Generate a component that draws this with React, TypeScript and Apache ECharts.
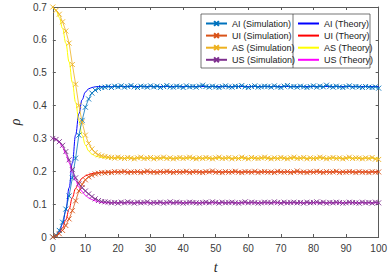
import React, { useEffect, useRef } from "react";
import * as echarts from "echarts";

const simNames = ["AI (Simulation)", "UI (Simulation)", "AS (Simulation)", "US (Simulation)"];
const theoryNames = ["AI (Theory)", "UI (Theory)", "AS (Theory)", "US (Theory)"];
const simColors = ["#0072BD", "#D95319", "#EDB120", "#7E2F8E"];
const theoryColors = ["#0000FF", "#FF0000", "#FFFF00", "#FF00FF"];

const xTicks = [0, 10, 20, 30, 40, 50, 60, 70, 80, 90, 100];
const yTicks = [0, 0.1, 0.2, 0.3, 0.4, 0.5, 0.6, 0.7];

// Simulation, t = 0..15
const aiSimEarly = [0, 0.005, 0.02, 0.045, 0.085, 0.125, 0.18, 0.24, 0.31, 0.355, 0.395, 0.42, 0.438, 0.447, 0.452, 0.455];
const uiSimEarly = [0, 0.004, 0.01, 0.02, 0.035, 0.055, 0.08, 0.11, 0.14, 0.16, 0.174, 0.183, 0.188, 0.192, 0.194, 0.196];
const asSimEarly = [0.7, 0.69, 0.678, 0.655, 0.627, 0.59, 0.525, 0.465, 0.4, 0.35, 0.31, 0.285, 0.268, 0.257, 0.25, 0.247];
const usSimEarly = [0.3, 0.297, 0.29, 0.279, 0.26, 0.235, 0.205, 0.18, 0.162, 0.15, 0.14, 0.131, 0.123, 0.116, 0.111, 0.108];

// Simulation, t = 16..100
const aiSimLate = [
  0.456, 0.458, 0.455, 0.459, 0.457, 0.46, 0.456, 0.458, 0.461, 0.457,
  0.455, 0.459, 0.458, 0.456, 0.46, 0.457, 0.459, 0.455, 0.458, 0.461,
  0.457, 0.456, 0.459, 0.458, 0.455, 0.46, 0.457, 0.458, 0.456, 0.459,
  0.462, 0.458, 0.456, 0.459, 0.457, 0.455, 0.458, 0.46, 0.457, 0.456,
  0.459, 0.458, 0.461, 0.457, 0.455, 0.458, 0.46, 0.456, 0.457, 0.459,
  0.458, 0.456, 0.46, 0.457, 0.455, 0.459, 0.461, 0.457, 0.458, 0.456,
  0.459, 0.457, 0.455, 0.458, 0.46, 0.456, 0.459, 0.457, 0.462, 0.458,
  0.456, 0.459, 0.457, 0.455, 0.458, 0.46, 0.456, 0.458, 0.457, 0.455,
  0.458, 0.456, 0.455, 0.457, 0.453,
];
const uiSimLate = [
  0.195, 0.197, 0.196, 0.199, 0.197, 0.198, 0.2, 0.196, 0.198, 0.197,
  0.199, 0.196, 0.198, 0.201, 0.197, 0.198, 0.196, 0.199, 0.197, 0.2,
  0.198, 0.196, 0.199, 0.197, 0.198, 0.2, 0.196, 0.198, 0.199, 0.197,
  0.196, 0.199, 0.198, 0.201, 0.197, 0.198, 0.196, 0.199, 0.197, 0.198,
  0.2, 0.197, 0.196, 0.199, 0.198, 0.197, 0.2, 0.196, 0.198, 0.199,
  0.197, 0.198, 0.196, 0.2, 0.198, 0.197, 0.199, 0.196, 0.198, 0.201,
  0.197, 0.198, 0.196, 0.199, 0.197, 0.2, 0.198, 0.196, 0.199, 0.197,
  0.198, 0.2, 0.196, 0.198, 0.197, 0.199, 0.198, 0.196, 0.199, 0.197,
  0.198, 0.196, 0.199, 0.197, 0.198,
];
const asSimLate = [
  0.245, 0.243, 0.242, 0.24, 0.243, 0.241, 0.239, 0.242, 0.24, 0.238,
  0.241, 0.243, 0.239, 0.24, 0.242, 0.238, 0.241, 0.24, 0.243, 0.239,
  0.241, 0.238, 0.24, 0.242, 0.239, 0.241, 0.243, 0.24, 0.238, 0.241,
  0.239, 0.242, 0.24, 0.238, 0.241, 0.243, 0.239, 0.24, 0.242, 0.238,
  0.241, 0.239, 0.243, 0.24, 0.238, 0.242, 0.24, 0.239, 0.241, 0.243,
  0.24, 0.238, 0.241, 0.239, 0.242, 0.24, 0.238, 0.241, 0.243, 0.239,
  0.24, 0.242, 0.238, 0.241, 0.239, 0.24, 0.243, 0.241, 0.238, 0.24,
  0.242, 0.239, 0.241, 0.238, 0.24, 0.243, 0.239, 0.241, 0.24, 0.238,
  0.241, 0.239, 0.242, 0.237, 0.236,
];
const usSimLate = [
  0.107, 0.106, 0.104, 0.105, 0.103, 0.106, 0.104, 0.107, 0.105, 0.103,
  0.106, 0.104, 0.105, 0.107, 0.103, 0.105, 0.104, 0.106, 0.103, 0.105,
  0.107, 0.104, 0.106, 0.105, 0.103, 0.104, 0.106, 0.105, 0.104, 0.103,
  0.105, 0.106, 0.104, 0.107, 0.105, 0.103, 0.106, 0.104, 0.105, 0.106,
  0.104, 0.103, 0.105, 0.107, 0.104, 0.106, 0.105, 0.103, 0.104, 0.106,
  0.105, 0.104, 0.107, 0.105, 0.103, 0.106, 0.104, 0.105, 0.106, 0.104,
  0.105, 0.103, 0.106, 0.104, 0.105, 0.107, 0.104, 0.106, 0.103, 0.105,
  0.104, 0.106, 0.105, 0.103, 0.104, 0.106, 0.105, 0.104, 0.103, 0.106,
  0.104, 0.105, 0.103, 0.106, 0.104,
];

// Theory
const tTheory = [0, 1, 2, 3, 4, 5, 6, 7, 8, 9, 10, 11, 12, 13, 14, 15, 16, 20, 30, 40, 60, 80, 100];
const aiTheory = [0, 0.004, 0.016, 0.04, 0.08, 0.15, 0.225, 0.31, 0.375, 0.418, 0.441, 0.451, 0.455, 0.457, 0.458, 0.458, 0.458, 0.458, 0.458, 0.458, 0.458, 0.458, 0.458];
const uiTheory = [0, 0.003, 0.012, 0.028, 0.052, 0.085, 0.12, 0.148, 0.167, 0.179, 0.186, 0.19, 0.193, 0.195, 0.196, 0.197, 0.197, 0.198, 0.198, 0.198, 0.198, 0.198, 0.198];
const asTheory = [0.7, 0.69, 0.668, 0.635, 0.59, 0.533, 0.47, 0.41, 0.355, 0.31, 0.28, 0.262, 0.252, 0.247, 0.244, 0.242, 0.241, 0.24, 0.24, 0.24, 0.24, 0.24, 0.24];
const usTheory = [0.3, 0.297, 0.288, 0.273, 0.252, 0.226, 0.198, 0.172, 0.152, 0.138, 0.127, 0.119, 0.114, 0.11, 0.107, 0.105, 0.104, 0.104, 0.104, 0.104, 0.104, 0.104, 0.104];

const simSeriesValues = [
  aiSimEarly.concat(aiSimLate),
  uiSimEarly.concat(uiSimLate),
  asSimEarly.concat(asSimLate),
  usSimEarly.concat(usSimLate),
];
const theorySeriesValues = [aiTheory, uiTheory, asTheory, usTheory];

const AXIS_COLOR = "#5a5a5a";
const LABEL_COLOR = "#3a3a3a";
const SANS = "'Liberation Sans', Arial, Helvetica, sans-serif";
const SERIF = "'Liberation Serif', 'DejaVu Serif', serif";
const X_SYMBOL = "path://M0,0L10,10M10,0L0,10";

export default function App() {
  const ref = useRef<HTMLDivElement>(null);

  useEffect(() => {
    if (!ref.current) return;
    const chart = echarts.init(ref.current, undefined, { renderer: "svg" });

    const theorySeries = theorySeriesValues.map((vals, i) => ({
      name: theoryNames[i],
      type: "line",
      data: tTheory.map((t, j) => [t, vals[j]]),
      showSymbol: false,
      symbol: "none",
      smooth: 0.4,
      smoothMonotone: "x",
      lineStyle: { color: theoryColors[i], width: 1 },
      itemStyle: { color: theoryColors[i] },
      z: 2,
    }));

    const simSeries = simSeriesValues.map((vals, i) => ({
      name: simNames[i],
      type: "line",
      data: vals.map((v, j) => [j, v]),
      symbol: X_SYMBOL,
      symbolSize: 5,
      showSymbol: true,
      lineStyle: { color: simColors[i], width: 0.8 },
      itemStyle: { color: simColors[i], borderColor: simColors[i], borderWidth: 0.9 },
      z: 3,
    }));

    const legendCommon = {
      orient: "vertical",
      top: 19,
      itemWidth: 21,
      itemHeight: 6,
      itemGap: 3.1,
      padding: 0,
      selectedMode: false,
      textStyle: { fontSize: 9, fontFamily: SANS, color: "#1a1a1a", lineHeight: 9 },
    };

    const axisCommonX = {
      type: "value",
      min: xTicks[0],
      max: xTicks[xTicks.length - 1],
      interval: xTicks[1] - xTicks[0],
      splitLine: { show: false },
      axisLine: { show: true, onZero: false, lineStyle: { color: AXIS_COLOR, width: 1 } },
      axisTick: { show: true, inside: true, length: 3, lineStyle: { color: AXIS_COLOR } },
    };
    const axisCommonY = {
      type: "value",
      min: yTicks[0],
      max: yTicks[yTicks.length - 1],
      interval: 0.1,
      splitLine: { show: false },
      axisLine: { show: true, onZero: false, lineStyle: { color: AXIS_COLOR, width: 1 } },
      axisTick: { show: true, inside: true, length: 3, lineStyle: { color: AXIS_COLOR } },
    };

    chart.setOption({
      animation: false,
      backgroundColor: "#ffffff",
      grid: { left: 40, top: 7, width: 341, height: 236, containLabel: false },
      xAxis: [
        {
          ...axisCommonX,
          position: "bottom",
          axisLabel: { color: LABEL_COLOR, fontSize: 10, fontFamily: SANS, margin: 6 },
          name: "t",
          nameLocation: "middle",
          nameGap: 23,
          nameTextStyle: { fontFamily: SERIF, fontStyle: "italic", fontSize: 14, color: "#262626" },
        },
        { ...axisCommonX, position: "top", axisLabel: { show: false } },
      ],
      yAxis: [
        {
          ...axisCommonY,
          position: "left",
          axisLabel: {
            color: LABEL_COLOR,
            fontSize: 10,
            fontFamily: SANS,
            margin: 6,
            formatter: (v: number) => String(Math.round(v * 10) / 10),
          },
          name: "ρ",
          nameLocation: "middle",
          nameGap: 27,
          nameTextStyle: { fontFamily: SERIF, fontStyle: "italic", fontSize: 14, color: "#262626" },
        },
        { ...axisCommonY, position: "right", axisLabel: { show: false } },
      ],
      legend: [
        { ...legendCommon, left: 205, data: simNames },
        { ...legendCommon, left: 297, data: theoryNames, itemStyle: { opacity: 0 } },
      ],
      graphic: [
        {
          type: "rect",
          shape: { x: 201, y: 14, width: 169, height: 54 },
          style: { fill: "#ffffff", stroke: "#3a3a3a", lineWidth: 0.7 },
          z: 3,
        },
        {
          type: "line",
          shape: { x1: 293, y1: 14, x2: 293, y2: 68 },
          style: { stroke: "#3a3a3a", lineWidth: 0.7 },
          z: 3,
        },
      ],
      series: [...theorySeries, ...simSeries],
    });

    return () => chart.dispose();
  }, []);

  return (
    <div
      ref={ref}
      style={{ position: "absolute", left: 0, top: 0, width: 390, height: 279 }}
    />
  );
}
